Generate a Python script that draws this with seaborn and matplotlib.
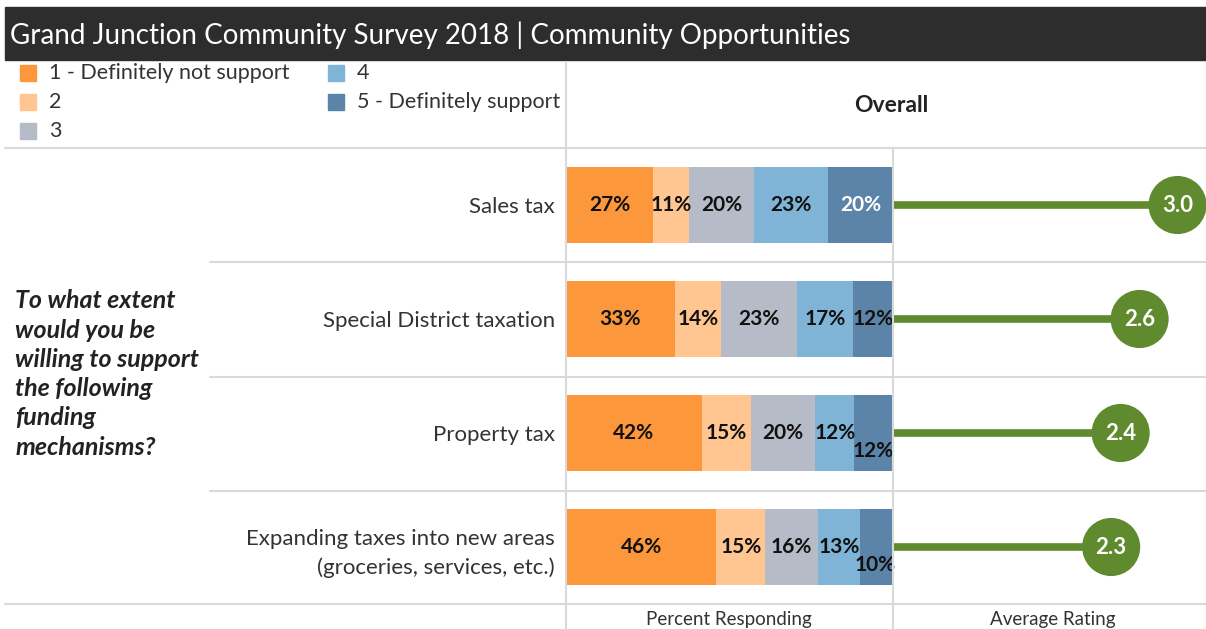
import matplotlib
matplotlib.use("Agg")
import matplotlib.pyplot as plt
from matplotlib.lines import Line2D
from matplotlib.patches import Rectangle
import pandas as pd
import seaborn as sns

# Survey data
mechanisms = ['Sales tax', 'Special District taxation', 'Property tax',
              'Expanding taxes into new areas\n(groceries, services, etc.)']
levels = ['1 - Definitely not support', '2', '3', '4', '5 - Definitely support']
pct_1 = [27, 33, 42, 46]
pct_2 = [11, 14, 15, 15]
pct_3 = [20, 23, 20, 16]
pct_4 = [23, 17, 12, 13]
pct_5 = [20, 12, 12, 10]
avg_rating = [3.0, 2.6, 2.4, 2.3]

colors = ['#FC983B', '#FFC691', '#B6BCC7', '#80B4D7', '#5C84A8']
green = '#5F8A2E'
grid_col = '#D9D9D9'

W, H = 1206, 629
sns.set_theme(style='white')
plt.rcParams['font.family'] = ['Lato', 'DejaVu Sans']

fig = plt.figure(figsize=(W / 100, H / 100), dpi=100)


def fx(px):
    return px / W


def fy(py):
    return 1 - py / H


def add_ax(x0, y0, x1, y1):
    return fig.add_axes([fx(x0), fy(y1), fx(x1) - fx(x0), fy(y0) - fy(y1)])


# Header bar
fig.patches.append(Rectangle((fx(5), fy(60)), fx(1206) - fx(5), fy(7) - fy(60),
                             transform=fig.transFigure, color='#2D2D2D', zorder=0))
fig.text(fx(10), fy(35), 'Grand Junction Community Survey 2018 | Community Opportunities',
         color='white', fontsize=20, va='center', ha='left')

# Legend
leg_pos = [(20, 73), (20, 102), (20, 131), (328, 73), (328, 102)]
for (lx, ly), lab, col in zip(leg_pos, levels, colors):
    fig.patches.append(Rectangle((fx(lx), fy(ly + 8)), fx(16), 16 / H,
                                 transform=fig.transFigure, color=col))
    fig.text(fx(lx + 29), fy(ly), lab, fontsize=15.5, va='center', ha='left', color='#333333')

fig.text(fx(891), fy(106), 'Overall', fontsize=16.5, fontweight='bold', ha='center', va='center',
         color='#222222')


# Grid lines
def fig_line(x0, y0, x1, y1):
    fig.lines.append(Line2D([fx(x0), fx(x1)], [fy(y0), fy(y1)], transform=fig.transFigure,
                            color=grid_col, lw=1.5, zorder=0))


fig_line(5, 148, 1206, 148)
for gy in [262, 377, 491]:
    fig_line(210, gy, 1206, gy)
fig_line(5, 604, 1206, 604)
fig_line(566, 63, 566, 629)
fig_line(893, 148, 893, 629)

# Question text
fig.text(fx(15), fy(374),
         'To what extent\nwould you be\nwilling to support\nthe following\nfunding\nmechanisms?',
         fontsize=18, fontweight='bold', fontstyle='italic', ha='left', va='center',
         linespacing=1.33, color='#222222')

# Stacked percent bars
df = pd.DataFrame({'mechanism': mechanisms, 'p1': pct_1, 'p2': pct_2, 'p3': pct_3,
                   'p4': pct_4, 'p5': pct_5})
cols = ['p1', 'p2', 'p3', 'p4', 'p5']
shares = df[cols].div(df[cols].sum(axis=1), axis=0) * 100
cum = shares.cumsum(axis=1)
plot_df = pd.concat([df[['mechanism']], cum], axis=1)

ax_bar = add_ax(566, 148, 893, 604)
for i in reversed(range(5)):
    sns.barplot(data=plot_df, x=cols[i], y='mechanism', color=colors[i], orient='h',
                width=0.66, saturation=1, linewidth=0, ax=ax_bar)

for r in range(len(mechanisms)):
    for i, c in enumerate(cols):
        left = cum.iloc[r, i] - shares.iloc[r, i]
        xc = left + shares.iloc[r, i] / 2
        yc = r
        tcol = '#111111'
        if i == 4 and df.loc[r, 'p5'] >= 15:
            tcol = 'white'
        if i == 4 and df.loc[r, 'p4'] <= 13 and df.loc[r, 'p5'] <= 12:
            # narrow neighbours: drop the last label below the others
            yc = r + 0.16
            xc = min(xc, 100 - 5.6)
        ax_bar.text(xc, yc, f'{df.loc[r, c]}%', ha='center', va='center', fontsize=15,
                    fontweight='bold', color=tcol)

ax_bar.set_xlim(0, 100)
ax_bar.set_ylim(3.5, -0.5)
ax_bar.set_xlabel('')
ax_bar.set_ylabel('')
ax_bar.set_xticks([])
ax_bar.tick_params(axis='y', length=0, pad=8, labelsize=16, labelcolor='#333333')
for lbl in ax_bar.get_yticklabels():
    lbl.set_linespacing(1.5)
sns.despine(ax=ax_bar, left=True, bottom=True)
ax_bar.patch.set_alpha(0)

# Average rating lollipops
ax_dot = add_ax(893, 148, 1206, 604)
ypos = list(range(len(mechanisms)))
ax_dot.hlines(ypos, 0, avg_rating, color=green, lw=5.5, zorder=1)
sns.scatterplot(x=avg_rating, y=ypos, s=1750, color=green, edgecolor='none',
                zorder=2, ax=ax_dot, legend=False)
for yv, val in zip(ypos, avg_rating):
    ax_dot.text(val, yv, f'{val:.1f}', color='white', fontsize=16, fontweight='bold',
                ha='center', va='center', zorder=3)
ax_dot.set_xlim(0, 3.3)
ax_dot.set_ylim(3.5, -0.5)
ax_dot.set_xticks([])
ax_dot.set_yticks([])
sns.despine(ax=ax_dot, left=True, bottom=True)
ax_dot.patch.set_alpha(0)

fig.text(fx(729), fy(620), 'Percent Responding', fontsize=13.5, ha='center', va='center',
         color='#333333')
fig.text(fx(1053), fy(620), 'Average Rating', fontsize=13.5, ha='center', va='center',
         color='#333333')

fig.savefig('out.png', dpi=100)
